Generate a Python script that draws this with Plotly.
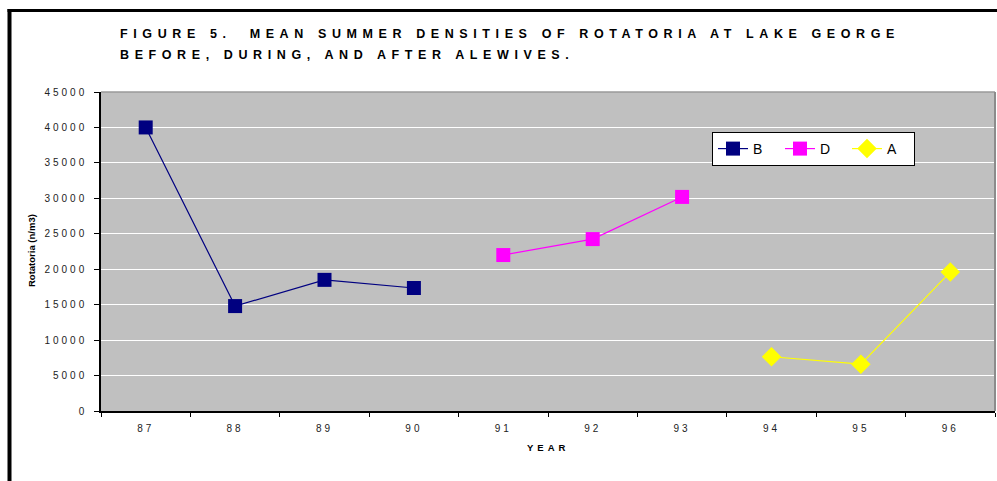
import plotly.graph_objects as go

years = ["87", "88", "89", "90", "91", "92", "93", "94", "95", "96"]
b_years = ["87", "88", "89", "90"]
b_vals = [40000, 14800, 18500, 17350]
d_years = ["91", "92", "93"]
d_vals = [22000, 24250, 30200]
a_years = ["94", "95", "96"]
a_vals = [7650, 6600, 19600]

W, H = 997, 481
L, R, T, B = 101, 995, 92, 411  # plot area pixel bounds


def px(x):
    return (x - L) / (R - L)


def py(y):
    return (B - y) / (B - T)


FONT = "Liberation Sans, Arial, sans-serif"

fig = go.Figure()
fig.add_trace(go.Scatter(x=b_years, y=b_vals, name="B", mode="lines+markers",
                         line=dict(color="#000080", width=1.2),
                         marker=dict(symbol="square", size=14, color="#000080")))
fig.add_trace(go.Scatter(x=d_years, y=d_vals, name="D", mode="lines+markers",
                         line=dict(color="#FF00FF", width=1.2),
                         marker=dict(symbol="square", size=14, color="#FF00FF")))
fig.add_trace(go.Scatter(x=a_years, y=a_vals, name="A", mode="lines+markers",
                         line=dict(color="#FFFF00", width=1.2),
                         marker=dict(symbol="diamond", size=15, color="#FFFF00")))

fig.update_layout(
    width=W, height=H, autosize=False,
    margin=dict(l=L, r=W - R, t=T, b=H - B, pad=0),
    paper_bgcolor="white", plot_bgcolor="#C0C0C0",
    font=dict(family=FONT, color="black"),
    showlegend=True,
    legend=dict(orientation="h", x=px(712), y=py(132), xanchor="left", yanchor="top",
                bgcolor="white", bordercolor="black", borderwidth=1,
                font=dict(size=14, family=FONT), itemwidth=30, tracegroupgap=0,
                entrywidth=22, entrywidthmode="pixels", itemsizing="trace"),
    xaxis=dict(type="category", categoryorder="array", categoryarray=years,
               range=[-0.5, 9.5], showgrid=False, showline=True, linecolor="black",
               linewidth=1.5, ticks="outside", ticklen=4, tickcolor="black",
               tickson="boundaries", tickfont=dict(size=10, family=FONT, color="#222"),
               ticklabelstandoff=7, zeroline=False, fixedrange=True),
    yaxis=dict(range=[0, 45000], dtick=5000, tick0=0, tickformat="d",
               showgrid=True, gridcolor="white", gridwidth=1.2,
               showline=True, linecolor="black", linewidth=1.5,
               ticks="outside", ticklen=5, tickcolor="black",
               tickfont=dict(size=10, family=FONT, color="#222"),
               ticklabelstandoff=5, zeroline=False, fixedrange=True),
    annotations=[
        dict(text="FIGURE 5.  MEAN SUMMER DENSITIES OF ROTATORIA AT LAKE GEORGE",
             xref="paper", yref="paper", x=px(118), y=py(34), xanchor="left",
             yanchor="middle", align="left", showarrow=False,
             font=dict(size=12.5, family=FONT, weight="bold", color="#000")),
        dict(text="BEFORE, DURING, AND AFTER ALEWIVES.",
             xref="paper", yref="paper", x=px(118), y=py(55), xanchor="left",
             yanchor="middle", align="left", showarrow=False,
             font=dict(size=12.5, family=FONT, weight="bold", color="#000")),
        dict(text="YEAR", xref="paper", yref="paper", x=px(548), y=py(447),
             xanchor="center", yanchor="middle", showarrow=False,
             font=dict(size=9.5, family=FONT, weight="bold", color="#000")),
        dict(text="Rotatoria (n/m3)", xref="paper", yref="paper", x=px(31), y=py(251),
             xanchor="center", yanchor="middle", textangle=-90, showarrow=False,
             font=dict(size=9.5, family=FONT, weight="bold", color="#000")),
    ],
    shapes=[
        dict(type="line", xref="paper", yref="paper", x0=0, x1=1, y0=1, y1=1,
             line=dict(color="#9a9a9a", width=1.5), layer="above"),
        dict(type="line", xref="paper", yref="paper", x0=1, x1=1, y0=0, y1=1,
             line=dict(color="#8c8c8c", width=2), layer="above"),
        dict(type="line", xref="paper", yref="paper", x0=px(9.5), x1=px(9.5),
             y0=py(9), y1=py(490), line=dict(color="black", width=4), layer="above"),
        dict(type="line", xref="paper", yref="paper", x0=px(7.5), x1=px(1000),
             y0=py(10.5), y1=py(10.5), line=dict(color="black", width=3), layer="above"),
    ],
)

post = """
document.body.style.margin='0';
var gd=document.getElementById('{plot_id}');
gd.querySelectorAll('g.ytick text').forEach(function(t){t.style.letterSpacing='3px';});
gd.querySelectorAll('g.xtick text').forEach(function(t){t.style.letterSpacing='3px';});
gd.querySelectorAll('.annotation-text').forEach(function(t){
  var s=t.textContent;
  if(s.indexOf('FIGURE')===0||s.indexOf('BEFORE')===0){t.style.letterSpacing='5.6px';}
  else if(s==='YEAR'){t.style.letterSpacing='4px';}
});
"""

fig.write_html("out.html", post_script=post, config={"responsive": False, "displayModeBar": False})
